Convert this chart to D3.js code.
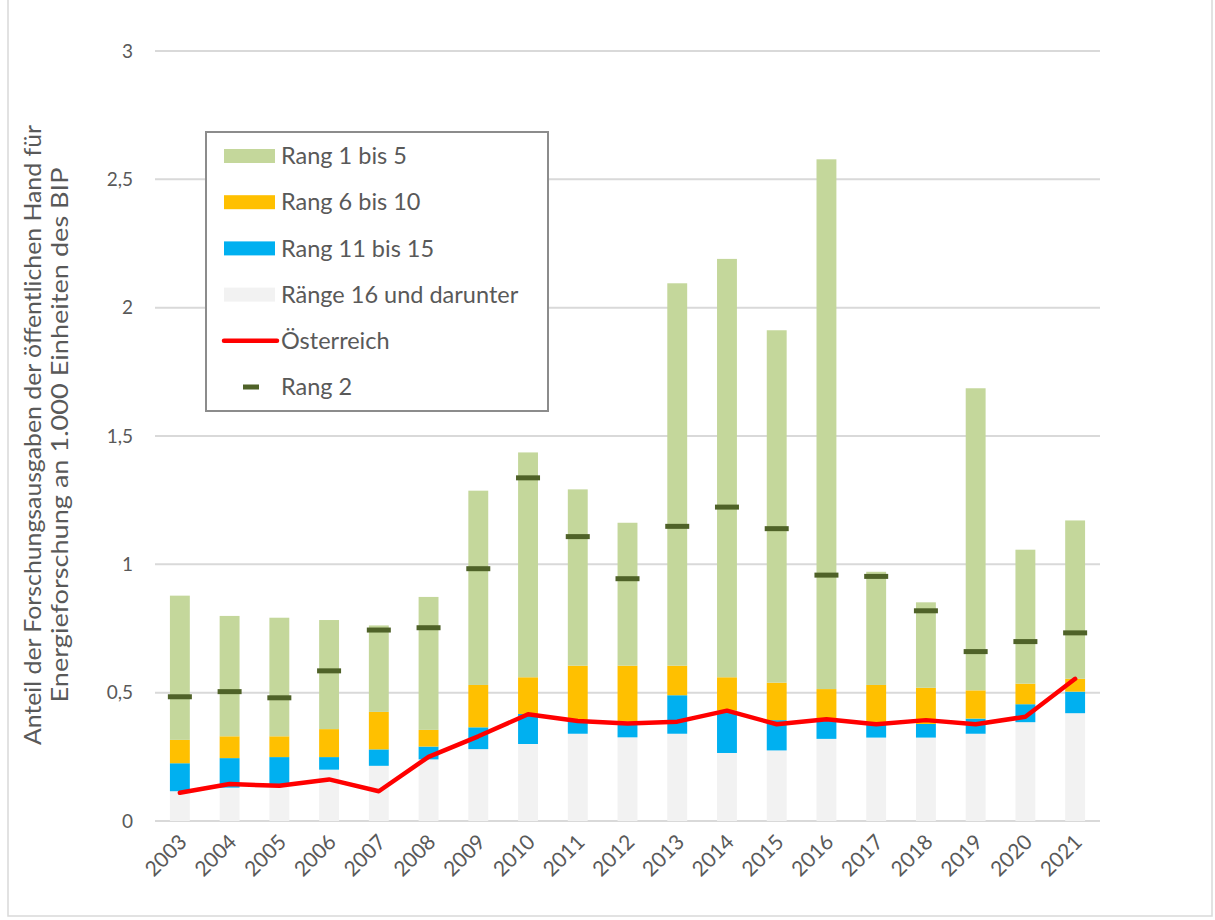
<!DOCTYPE html>
<html>
<head>
  <meta charset="utf-8">
  <title>Forschungsausgaben Energieforschung</title>
  <script src="https://d3js.org/d3.v7.min.js"></script>
  <style>
    body { margin: 0; background: #fff; }
    text { font-family: Lato, "Open Sans", sans-serif; fill: #595959; }
  </style>
</head>
<body>
  <div id="chart"></div>

  <script>
    // data
    const years = ['2003', '2004', '2005', '2006', '2007', '2008', '2009', '2010', '2011', '2012',
      '2013', '2014', '2015', '2016', '2017', '2018', '2019', '2020', '2021'];

    // stacked segments (bottom to top)
    const rank16plus = [0.116, 0.13, 0.14, 0.20, 0.215, 0.24, 0.28, 0.30, 0.34, 0.326,
      0.34, 0.265, 0.275, 0.32, 0.325, 0.325, 0.34, 0.385, 0.42];
    const rank11to15 = [0.109, 0.115, 0.109, 0.049, 0.064, 0.05, 0.085, 0.117, 0.053, 0.061,
      0.15, 0.165, 0.118, 0.076, 0.055, 0.053, 0.059, 0.07, 0.084];
    const rank6to10 = [0.091, 0.085, 0.081, 0.109, 0.146, 0.065, 0.165, 0.143, 0.212, 0.218,
      0.115, 0.13, 0.146, 0.118, 0.15, 0.141, 0.11, 0.08, 0.05];
    const rank1to5 = [0.562, 0.469, 0.462, 0.425, 0.337, 0.518, 0.757, 0.876, 0.687, 0.557,
      1.49, 1.63, 1.373, 2.064, 0.441, 0.333, 1.177, 0.522, 0.617];

    const rank2 = [0.484, 0.504, 0.48, 0.585, 0.744, 0.753, 0.983, 1.337, 1.108, 0.944,
      1.148, 1.223, 1.139, 0.958, 0.953, 0.819, 0.66, 0.699, 0.733];
    const austria = [0.11, 0.144, 0.137, 0.162, 0.116, 0.25, 0.33, 0.416, 0.39, 0.38,
      0.387, 0.43, 0.377, 0.396, 0.377, 0.393, 0.377, 0.406, 0.554];

    const yTicks = [0, 0.5, 1, 1.5, 2, 2.5, 3];

    const seriesKeys = ['r16', 'r11', 'r6', 'r1'];
    const seriesColors = { r16: '#f2f2f2', r11: '#00b0f0', r6: '#ffc000', r1: '#c4d79b' };

    const table = years.map((y, i) => ({
      year: y,
      r16: rank16plus[i],
      r11: rank11to15[i],
      r6: rank6to10[i],
      r1: rank1to5[i]
    }));

    const width = 1215, height = 920;
    const svg = d3.select('#chart')
      .append('svg')
      .attr('width', width)
      .attr('height', height);

    // outer chart frame
    svg.append('rect')
      .attr('x', 8).attr('y', -2)
      .attr('width', 1204).attr('height', 918)
      .attr('fill', 'none')
      .attr('stroke', '#d9d9d9')
      .attr('stroke-width', 1.5);

    const xScale = d3.scaleBand()
      .domain(years)
      .range([155, 1100])
      .paddingInner(0.6)
      .paddingOuter(0.3);

    const yScale = d3.scaleLinear()
      .domain([0, 3])
      .range([821, 51]);

    const locale = d3.formatLocale({ decimal: ',', thousands: '.', grouping: [3], currency: ['', '€'] });
    const fmt = locale.format('~g');

    // gridlines
    svg.append('g')
      .selectAll('line')
      .data(yTicks)
      .join('line')
      .attr('x1', 155).attr('x2', 1100)
      .attr('y1', d => yScale(d)).attr('y2', d => yScale(d))
      .attr('stroke', '#d9d9d9')
      .attr('stroke-width', 2);

    // y axis labels
    const yAxis = svg.append('g')
      .attr('transform', 'translate(155,0)')
      .call(d3.axisLeft(yScale).tickValues(yTicks).tickFormat(fmt).tickSize(0).tickPadding(22));
    yAxis.select('.domain').remove();
    yAxis.selectAll('text')
      .style('font-size', '19px')
      .attr('fill', '#595959');

    // x axis labels
    const xAxis = svg.append('g')
      .attr('transform', 'translate(0,821)')
      .call(d3.axisBottom(xScale).tickSize(0));
    xAxis.select('.domain').remove();
    xAxis.selectAll('text')
      .style('font-size', '21px')
      .attr('fill', '#595959')
      .attr('text-anchor', 'end')
      .attr('dy', '0.35em')
      .attr('transform', 'translate(1,15) rotate(-45)');

    // stacked bars
    const stacked = d3.stack().keys(seriesKeys)(table);
    svg.append('g')
      .selectAll('g')
      .data(stacked)
      .join('g')
      .attr('fill', d => seriesColors[d.key])
      .selectAll('rect')
      .data(d => d)
      .join('rect')
      .attr('x', d => xScale(d.data.year))
      .attr('width', xScale.bandwidth())
      .attr('y', d => yScale(d[1]))
      .attr('height', d => yScale(d[0]) - yScale(d[1]));

    // Rang 2 markers
    svg.append('g')
      .selectAll('rect')
      .data(rank2)
      .join('rect')
      .attr('x', (d, i) => xScale(years[i]) + xScale.bandwidth() / 2 - 12)
      .attr('y', d => yScale(d) - 2.5)
      .attr('width', 24)
      .attr('height', 5)
      .attr('fill', '#4f6228');

    // Austria line
    const line = d3.line()
      .x((d, i) => xScale(years[i]) + xScale.bandwidth() / 2)
      .y(d => yScale(d));
    svg.append('path')
      .datum(austria)
      .attr('d', line)
      .attr('fill', 'none')
      .attr('stroke', '#ff0000')
      .attr('stroke-width', 4.5)
      .attr('stroke-linejoin', 'round')
      .attr('stroke-linecap', 'round');

    // y axis title (condensed look via textLength)
    const ytitle = svg.append('text')
      .attr('transform', 'translate(0,435) rotate(-90)')
      .attr('text-anchor', 'middle')
      .style('font-size', '24px');
    ytitle.append('tspan')
      .attr('x', 0).attr('y', 41)
      .attr('textLength', 620)
      .attr('lengthAdjust', 'spacingAndGlyphs')
      .text('Anteil der Forschungsausgaben der öffentlichen Hand für');
    ytitle.append('tspan')
      .attr('x', 0).attr('y', 68)
      .attr('textLength', 535)
      .attr('lengthAdjust', 'spacingAndGlyphs')
      .text('Energieforschung an 1.000 Einheiten des BIP');

    // legend
    const legend = svg.append('g');
    legend.append('rect')
      .attr('x', 206).attr('y', 132)
      .attr('width', 342).attr('height', 279)
      .attr('fill', '#fff')
      .attr('stroke', '#8c8c8c')
      .attr('stroke-width', 2);

    const legendItems = [
      { label: 'Rang 1 bis 5', type: 'box', color: seriesColors.r1 },
      { label: 'Rang 6 bis 10', type: 'box', color: seriesColors.r6 },
      { label: 'Rang 11 bis 15', type: 'box', color: seriesColors.r11 },
      { label: 'Ränge 16 und darunter', type: 'box', color: seriesColors.r16 },
      { label: 'Österreich', type: 'line', color: '#ff0000' },
      { label: 'Rang 2', type: 'mark', color: '#4f6228' }
    ];

    const rows = legend.selectAll('g.item')
      .data(legendItems)
      .join('g')
      .attr('class', 'item')
      .attr('transform', (d, i) => `translate(0,${156 + i * 46.2})`);

    rows.filter(d => d.type === 'box').append('rect')
      .attr('x', 224).attr('y', -7)
      .attr('width', 51).attr('height', 14)
      .attr('fill', d => d.color);

    rows.filter(d => d.type === 'line').append('line')
      .attr('x1', 224).attr('x2', 277)
      .attr('y1', 0).attr('y2', 0)
      .attr('stroke', d => d.color)
      .attr('stroke-width', 4.5)
      .attr('stroke-linecap', 'round');

    rows.filter(d => d.type === 'mark').append('rect')
      .attr('x', 243).attr('y', -2.5)
      .attr('width', 16).attr('height', 5)
      .attr('fill', d => d.color);

    rows.append('text')
      .attr('x', 281)
      .attr('dy', '0.35em')
      .style('font-size', '23.5px')
      .text(d => d.label);
  </script>
</body>
</html>
